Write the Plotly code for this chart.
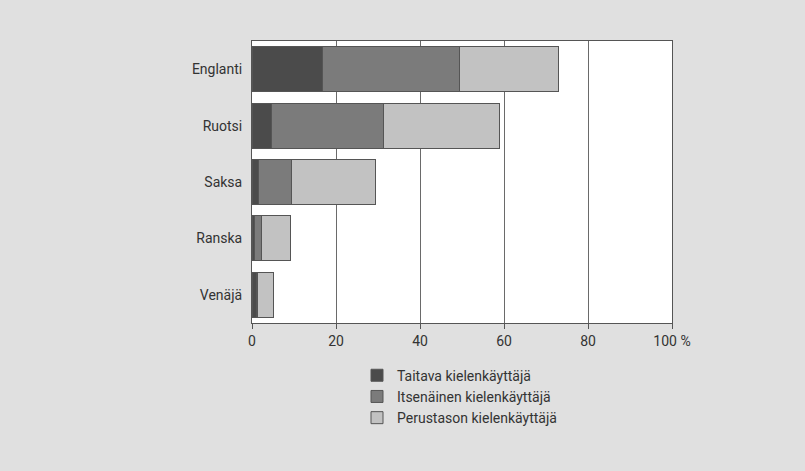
import plotly.graph_objects as go

languages = ["Englanti", "Ruotsi", "Saksa", "Ranska", "Venäjä"]
taitava = [16.8, 4.7, 1.5, 0.5, 1.1]
itsenainen = [32.6, 26.6, 8.0, 1.8, 0.2]
perustaso = [23.5, 27.7, 19.9, 6.8, 3.8]
series_names = ["Taitava kielenkäyttäjä", "Itsenäinen kielenkäyttäjä", "Perustason kielenkäyttäjä"]
tick_vals = [0, 20, 40, 60, 80, 100]
tick_text = ["0", "20", "40", "60", "80", "100 %"]

colors = ["#4b4b4b", "#7b7b7b", "#c2c2c2"]
font_family = "Roboto, sans-serif"

fig = go.Figure()
for name, vals, col in zip(series_names, [taitava, itsenainen, perustaso], colors):
    fig.add_trace(go.Bar(
        y=languages, x=vals, name=name, orientation="h",
        marker=dict(color=col, line=dict(color="#555555", width=1)),
    ))

fig.update_layout(
    barmode="stack",
    bargap=0.2,
    width=805, height=471,
    margin=dict(l=252, r=133, t=41, b=148),
    paper_bgcolor="#e0e0e0",
    plot_bgcolor="#ffffff",
    font=dict(family=font_family, size=14, color="#333333"),
    showlegend=True,
    legend=dict(
        x=0.25, y=-0.13, xanchor="left", yanchor="top",
        orientation="v", bgcolor="rgba(0,0,0,0)",
        font=dict(size=14), itemwidth=30, tracegroupgap=0,
        traceorder="normal",
    ),
    xaxis=dict(
        range=[0, 100], tickvals=tick_vals, ticktext=tick_text,
        showgrid=True, gridcolor="#6a6a6a", gridwidth=1,
        showline=True, linecolor="#555555", linewidth=1, mirror=True,
        ticks="outside", ticklen=5, tickcolor="#555555",
        zeroline=False, tickfont=dict(size=14),
    ),
    yaxis=dict(
        autorange="reversed",
        showline=True, linecolor="#555555", linewidth=1, mirror=True,
        ticks="", showgrid=False, ticklabelstandoff=6,
    ),
)

fig.write_html("out.html", config={"displayModeBar": False},
               post_script="document.body.style.margin='0';")
